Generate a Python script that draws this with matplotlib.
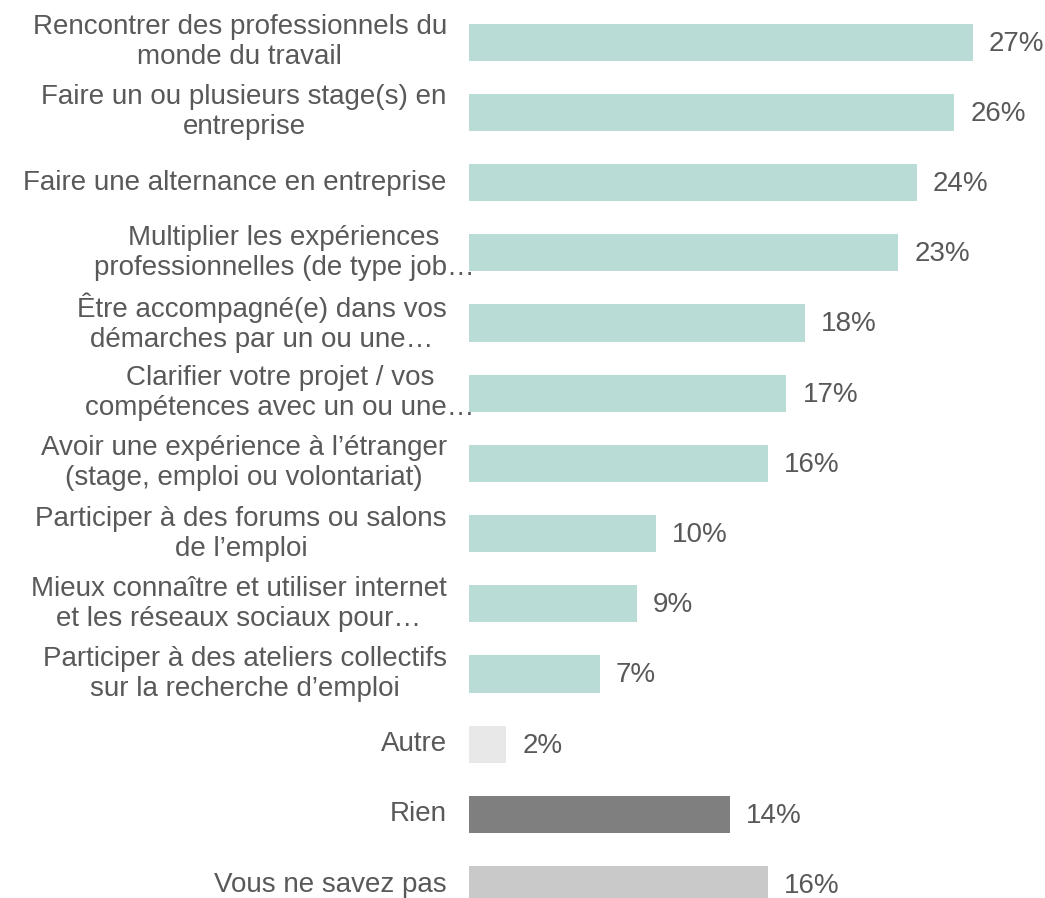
import matplotlib
matplotlib.use("Agg")
import matplotlib.pyplot as plt

plt.rcParams['font.family'] = ['Liberation Sans', 'DejaVu Sans']

categories = [
    "Rencontrer des professionnels du\nmonde du travail",
    "Faire un ou plusieurs stage(s) en\nentreprise",
    "Faire une alternance en entreprise",
    "Multiplier les expériences\nprofessionnelles (de type job…",
    "Être accompagné(e) dans vos\ndémarches par un ou une…",
    "Clarifier votre projet / vos\ncompétences avec un ou une…",
    "Avoir une expérience à l’étranger\n(stage, emploi ou volontariat)",
    "Participer à des forums ou salons\nde l’emploi",
    "Mieux connaître et utiliser internet\net les réseaux sociaux pour…",
    "Participer à des ateliers collectifs\nsur la recherche d’emploi",
    "Autre",
    "Rien",
    "Vous ne savez pas",
]
values = [27, 26, 24, 23, 18, 17, 16, 10, 9, 7, 2, 14, 16]

TEAL = "#B9DDD6"
bar_colors = [TEAL] * 10 + ["#E8E8E8", "#7F7F7F", "#C9C9C9"]
TEXT = "#595959"
FS = 20

fig = plt.figure(figsize=(10.45, 8.98), dpi=100)
ax = fig.add_axes([469 / 1045, 0, 1 - 469 / 1045, 1])

y = list(range(len(categories)))
ax.barh(y, values, height=0.53, color=bar_colors)

ax.set_xlim(0, 30.85)
ax.set_ylim(12.19, -0.6)
ax.axis("off")

# value labels just right of each bar
for yi, v in zip(y, values):
    ax.annotate(f"{v}%", xy=(v, yi), xytext=(11.5, -1), textcoords="offset points",
                ha="left", va="center", fontsize=FS, color=TEXT)

# category labels to the left of the bars; a trailing ellipsis hangs past the text box
renderer = fig.canvas.get_renderer()
for yi, lab in zip(y, categories):
    kw = dict(textcoords="offset points", ha="right", va="center",
              multialignment="center", fontsize=FS, color=TEXT, linespacing=1.2)
    t = ax.annotate(lab, xy=(0, yi), xytext=(-16, 0), **kw)
    if lab.endswith("…"):
        full = t.get_window_extent(renderer).width
        probe = ax.annotate(lab[:-1], xy=(0, yi), xytext=(-16, 0), **kw)
        trimmed = probe.get_window_extent(renderer).width
        probe.remove()
        shift_pt = (full - trimmed) * 72 / fig.dpi
        if shift_pt > 0:
            t.set_position((-16 + shift_pt, 0))

fig.savefig("out.png", dpi=100)
